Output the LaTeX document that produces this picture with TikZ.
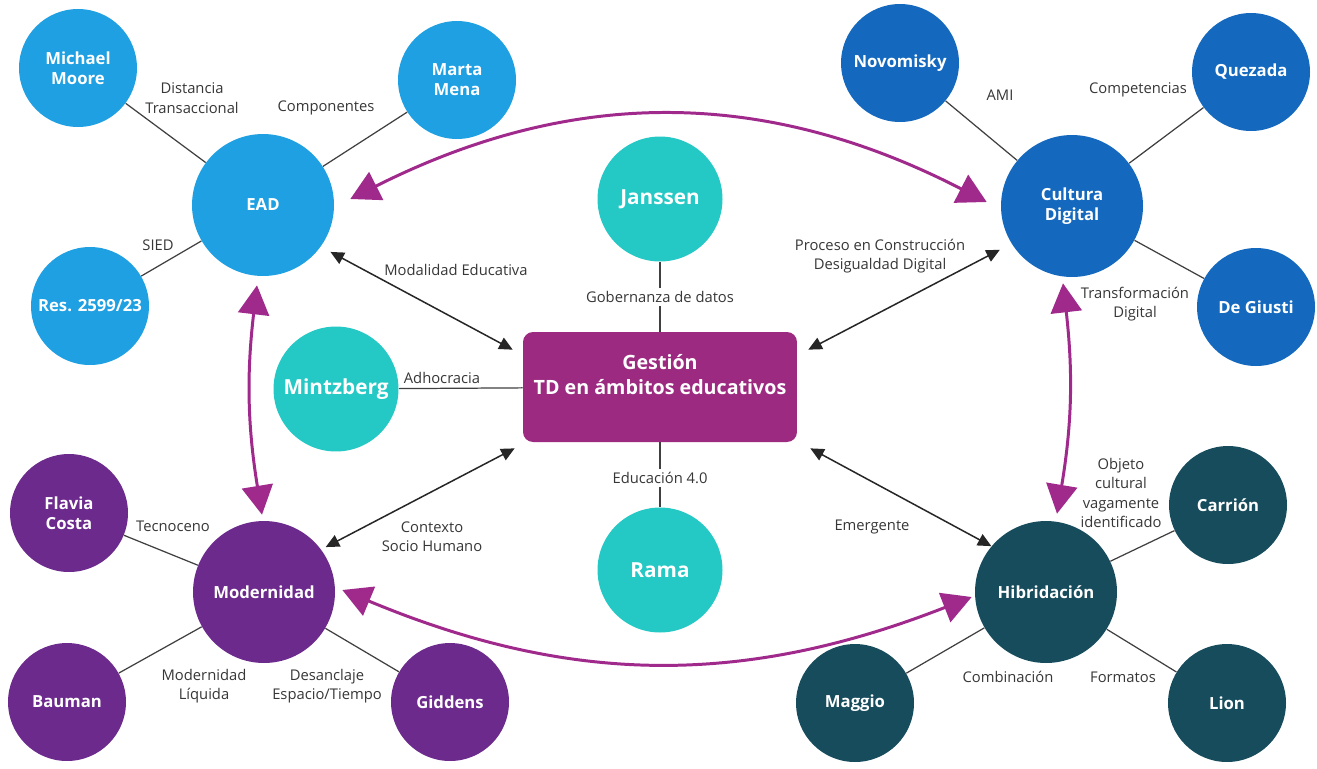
\documentclass[tikz,border=0pt]{standalone}
\usepackage{fontspec}
\setmainfont{Open Sans}
\usetikzlibrary{arrows.meta}

\definecolor{eadblue}{RGB}{30,160,226}
\definecolor{culblue}{RGB}{20,105,190}
\definecolor{midteal}{RGB}{36,200,196}
\definecolor{modpurple}{RGB}{108,42,140}
\definecolor{hibteal}{RGB}{23,76,92}
\definecolor{gestmag}{RGB}{156,42,128}
\definecolor{arrmag}{RGB}{160,42,140}
\definecolor{lblgray}{RGB}{55,55,55}

\tikzset{
	bubble/.style={circle, draw=none, text=white, align=center, inner sep=0pt, font=\bfseries\fontsize{9.5}{11.5}\selectfont},
	satnode/.style={bubble, minimum size=2.36cm},
	hubnode/.style={bubble, minimum size=2.84cm},
	midnode/.style={bubble, minimum size=2.5cm, fill=midteal, font=\bfseries\fontsize{11.8}{13}\selectfont},
	lbl/.style={text=lblgray, align=center, inner sep=1pt, font=\fontsize{8.4}{11}\selectfont},
	link/.style={draw=black!75, line width=0.7pt},
	bigarrow/.style={draw=arrmag, line width=1.7pt, {Triangle[length=0.58cm,width=0.62cm]}-{Triangle[length=0.58cm,width=0.62cm]}},
	thinarrow/.style={draw=black!85, line width=0.85pt, {Triangle[length=0.27cm,width=0.25cm]}-{Triangle[length=0.27cm,width=0.25cm]}}
}

\begin{document}
\begin{tikzpicture}[x=0.02cm, y=-0.02cm]
		%%%%% START %%%%%
		\useasboundingbox[fill=white] (0,0) rectangle (1317,768);
		
		% EAD
		\node[satnode, fill=eadblue] (moore) at (78,68) {Michael\\Moore};
		\node[satnode, fill=eadblue] (mena) at (457,80) {Marta\\Mena};
		\node[hubnode, fill=eadblue] (ead) at (263,205) {EAD};
		\node[satnode, fill=eadblue] (res) at (90,306) {Res. 2599/23};
		
		% Cultura digital
		\node[satnode, fill=culblue] (novo) at (900,63) {Novomisky};
		\node[satnode, fill=culblue] (quez) at (1251,72) {Quezada};
		\node[hubnode, fill=culblue] (cult) at (1072,206) {Cultura\\Digital};
		\node[satnode, fill=culblue] (giusti) at (1256,307) {De Giusti};
		
		% centro
		\node[midnode] (jans) at (660,199) {Janssen};
		\node[midnode] (mintz) at (336,389) {Mintzberg};
		\node[midnode] (rama) at (660,570) {Rama};
		\node[rectangle, rounded corners=0.2cm, fill=gestmag, text=white, align=center,
			minimum width=5.48cm, minimum height=2.2cm, font=\bfseries\fontsize{11.2}{14.5}\selectfont]
			(gest) at (660,387) {Gesti\'on\\TD en \'ambitos educativos\\~};
		
		% Modernidad
		\node[satnode, fill=modpurple] (flavia) at (69,513) {Flavia\\Costa};
		\node[hubnode, fill=modpurple] (mod) at (264,592) {Modernidad};
		\node[satnode, fill=modpurple] (bauman) at (67,702) {Bauman};
		\node[satnode, fill=modpurple] (giddens) at (450,702) {Giddens};
		
		% Hibridacion
		\node[satnode, fill=hibteal] (carrion) at (1228,505) {Carri\'on};
		\node[hubnode, fill=hibteal] (hib) at (1046,592) {Hibridaci\'on};
		\node[satnode, fill=hibteal] (maggio) at (855,703) {Maggio};
		\node[satnode, fill=hibteal] (lion) at (1227,703) {Lion};
		
		% lineas simples
		\draw[link] (moore) -- (ead);
		\draw[link] (mena) -- (ead);
		\draw[link] (res) -- (ead);
		\draw[link] (novo) -- (cult);
		\draw[link] (quez) -- (cult);
		\draw[link] (giusti) -- (cult);
		\draw[link] (flavia) -- (mod);
		\draw[link] (bauman) -- (mod);
		\draw[link] (giddens) -- (mod);
		\draw[link] (carrion) -- (hib);
		\draw[link] (maggio) -- (hib);
		\draw[link] (lion) -- (hib);
		\draw[link] (jans) -- node[lbl, fill=white, inner sep=2pt] (lgob) {Gobernanza de datos} (gest);
		\draw[link] (rama) -- node[lbl, fill=white, inner sep=2pt, pos=0.45] (ledu) {Educaci\'on 4.0} (gest);
		\draw[link] (mintz) -- (gest);
		
		% flechas negras
		\draw[thinarrow] ([shift={(9,6)}]ead.-35) -- ([shift={(-10,18)}]gest.north west);
		\draw[thinarrow] ([shift={(-11,7)}]cult.211) -- ([shift={(11,18)}]gest.north east);
		\draw[thinarrow] ([shift={(4,-3)}]mod.36) -- ([shift={(-8,6)}]gest.south west);
		\draw[thinarrow] (hib.140) -- ([shift={(13,6)}]gest.south east);
		
		% flechas curvas
		\draw[bigarrow] ([shift={(16,-6)}]ead.east) to[bend left=27] ([shift={(-14,-4)}]cult.west);
		\draw[bigarrow] ([shift={(-6,9)}]ead.south) to[bend right=8] ([shift={(-2,-6)}]mod.north);
		\draw[bigarrow] ([shift={(-9,6)}]cult.south) to[bend left=8] ([shift={(11,-7)}]hib.north);
		\draw[bigarrow] ([shift={(7,-2)}]mod.east) to[bend right=22] ([shift={(-3,5)}]hib.west);
		
		% etiquetas
		\node[lbl] (ldist) at (192,98) {Distancia\\Transaccional};
		\node[lbl] (lcomp) at (326,108) {Componentes};
		\node[lbl] (lsied) at (158,245) {SIED};
		\node[lbl] (lmoda) at (456,270) {Modalidad Educativa};
		\node[lbl] (lproc) at (880,256) {Proceso en Construcci\'on\\Desigualdad Digital};
		\node[lbl] (lami) at (1000,95) {AMI};
		\node[lbl] (lcompet) at (1138,90) {Competencias};
		\node[lbl] (ltrans) at (1135,304) {Transformaci\'on\\Digital};
		\node[lbl] (ladho) at (442,378) {Adhocracia};
		\node[lbl] (ltecno) at (173,526) {Tecnoceno};
		\node[lbl] (lctx) at (432,537) {Contexto\\Socio Humano};
		\node[lbl] (lemer) at (872,527) {Emergente};
		\node[lbl] (lobj) at (1121,493) {Objeto\\cultural\\vagamente\\identificado};
		\node[lbl] (lliq) at (204,686) {Modernidad\\L\'iquida};
		\node[lbl] (ldesa) at (327,686) {Desanclaje\\Espacio/Tiempo};
		\node[lbl] (lcomb) at (1008,677) {Combinaci\'on};
		\node[lbl] (lform) at (1123,677) {Formatos};
		
		%%%%% END %%%%%
\end{tikzpicture}
\end{document}
